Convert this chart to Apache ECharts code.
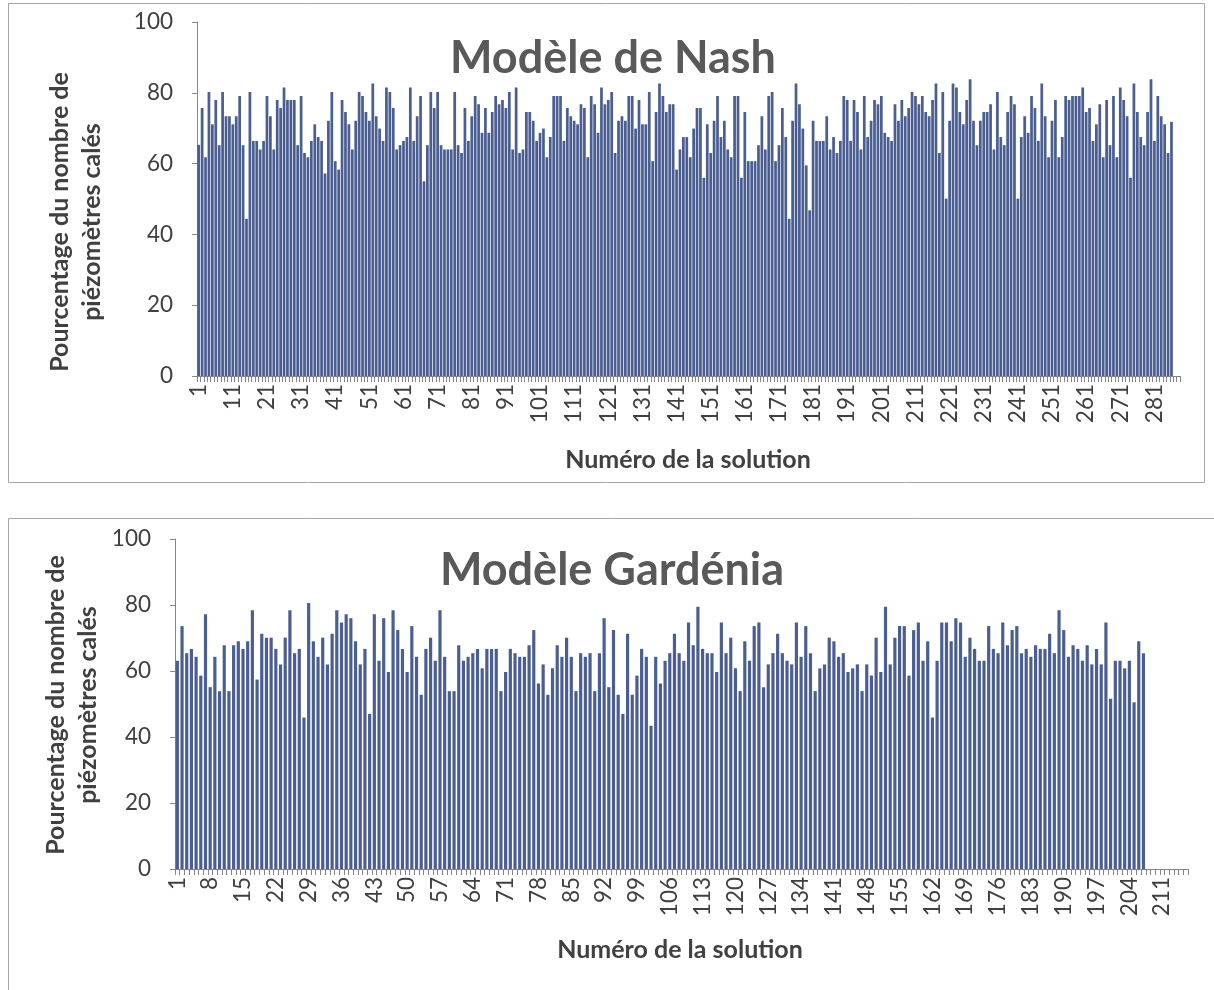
<!DOCTYPE html>
<html><head><meta charset="utf-8">
<script src="https://cdn.jsdelivr.net/npm/echarts@6/dist/echarts.min.js"></script>
<style>html,body{margin:0;padding:0;background:#fff}#c{width:1214px;height:990px}</style>
</head><body><div id="c"></div>
<script>
// ---- Data ----
const nashTitle = 'Modèle de Nash';
const gardeniaTitle = 'Modèle Gardénia';
const xAxisName = 'Numéro de la solution';
const yAxisName = 'Pourcentage du nombre de\npiézomètres calés';
const yTicks = [0, 20, 40, 60, 80, 100];
const nashCategoryCount = 288;      // categories on the axis (labels 1, 11, ... 281)
const gardeniaCategoryCount = 216;  // categories on the axis (labels 1, 8, ... 211)

const nashValues = [
65.3,75.7,61.8,80.2,71.1,78,65.2,80.2,73.4,73.4,71.1,73.4,79.1,65.2,44.4,80.2,66.4,66.4,64.0,66.4,79.1,73.4,64.0,78,75.7,81.5,78,78,78,65.2,79.1,63,61.8,66.4,71.1,67.5,66.4,57.2,72.1,80.2,60.7,58.3,78,74.6,71.1,64.0,72.1,80.2,
79.1,74.6,72.1,82.6,73.4,69.9,66.4,81.5,80.2,75.7,64.0,65.2,66.4,67.5,81.5,66.4,73.4,79.1,55.0,65.2,80.2,75.7,80.2,65.2,64.0,64.0,64.0,80.2,65.2,63.0,75.7,66.4,73.4,79.1,76.8,68.7,75.7,68.7,74.6,79.1,76.8,78,75.7,80.2,64.0,81.5,63.0,64.0,
74.6,74.6,72.1,66.4,68.7,69.9,61.8,67.5,79.1,79.1,79.1,66.4,75.7,73.4,72.1,71.1,76.8,75.7,61.8,79.1,76.8,68.7,81.5,76.8,78,80.2,63.0,72.1,73.4,72.1,79.1,79.1,69.9,78,71.1,71.1,80.2,60.7,74.6,82.6,79.1,74.6,76.8,76.8,58.3,64.0,67.5,
67.5,61.8,69.9,75.7,75.7,56.0,71.1,63.0,72.1,79.1,67.5,72.1,64.0,61.8,79.1,79.1,56.0,74.6,60.7,60.7,60.7,65.2,73.4,64.0,79.1,80.2,60.7,65.2,75.7,67.5,44.4,72.1,82.6,76.8,69.9,59.5,46.8,72.1,66.4,66.4,66.4,73.4,64.0,67.5,63.0,66.4,79.1,78,66.4,
78,74.6,64.0,79.1,67.5,72.1,78,76.8,79.1,68.7,67.5,66.4,76.8,72.1,78,73.4,75.7,80.2,79.1,76.8,79.1,74.6,73.4,78,82.6,63.0,80.2,50.1,72.1,82.6,81.5,74.6,71.1,78,83.8,72.1,65.2,72.1,74.6,74.6,76.8,64.0,80.2,67.5,65.2,74.6,79.1,76.8,
50.1,67.5,73.4,68.7,79.1,75.7,66.4,82.6,73.4,61.8,72.1,78,61.8,67.5,79.1,78,79.1,79.1,79.1,81.5,74.6,75.7,66.4,71.1,76.8,61.8,78,65.2,79.1,61.8,81.5,78,73.4,56.0,82.6,74.6,67.5,65.2,74.6,83.8,66.4,79.1,73.4,71.1,63.0,71.8
];

const gardeniaValues = [
63.1,73.6,65.4,66.7,64.3,58.6,77.2,55.1,64.3,53.9,67.8,53.9,67.8,69.0,66.7,69.0,78.4,57.4,71.3,70.1,70.1,66.7,62.0,70.1,78.4,65.4,66.7,45.9,80.6,69.0,64.3,70.1,62.0,71.3,78.4,
74.7,77.2,76.0,69.0,62.0,66.7,47.0,77.2,63.1,76.0,59.7,78.4,72.4,66.7,59.7,73.6,64.3,52.8,66.7,70.1,63.1,78.4,64.3,53.9,53.9,67.8,63.1,64.3,65.4,66.7,60.8,66.7,66.7,66.7,
53.9,59.7,66.7,65.4,64.3,64.3,67.8,72.4,56.2,62.0,52.8,60.8,67.8,64.3,70.1,64.3,53.9,65.4,64.3,65.4,53.9,65.4,76.0,55.1,72.4,52.8,47.0,71.3,52.8,58.6,66.7,64.3,43.4,64.3,56.2,
63.1,65.4,71.3,65.4,63.1,74.7,67.8,79.5,66.7,65.4,65.4,59.7,74.7,65.4,70.1,60.8,53.9,69.0,63.1,73.6,74.7,55.1,62.0,65.4,71.3,65.4,63.1,62.0,74.7,64.3,73.6,65.4,53.9,60.8,
62.0,70.1,69.0,64.3,65.4,59.7,60.8,62.0,53.9,62.0,58.6,70.1,59.7,79.5,62.0,70.1,73.6,73.6,58.6,72.4,74.7,63.1,69.0,45.9,63.1,74.7,74.7,69.0,76.0,74.7,64.3,70.1,66.7,63.1,63.1,
73.6,66.7,65.4,74.7,67.8,72.4,73.6,65.4,66.7,64.3,67.8,66.7,66.7,71.3,65.4,78.4,72.4,64.3,67.8,66.7,63.1,67.8,62.0,66.7,62.0,74.7,51.6,63.1,63.1,60.8,63.1,50.5,69.0,65.4
];

const nashCategories = Array.from({length: nashCategoryCount}, (_, i) => String(i + 1));
const gardeniaCategories = Array.from({length: gardeniaCategoryCount}, (_, i) => String(i + 1));

// ---- Styles ----
const FONT = 'Lato, "Open Sans", sans-serif';
const TXT = '#404040';
const AXIS = '#868686';
const BAR = '#4b5e91';

function xAxisCfg(grid, cats, labelInterval) {
  return {
    type: 'category', gridIndex: grid, data: cats,
    axisLine: {show: true, lineStyle: {color: AXIS, width: 1}},
    axisTick: {show: true, interval: 0, length: 6, lineStyle: {color: AXIS}},
    axisLabel: {interval: labelInterval, rotate: 90, fontSize: 22.5, color: TXT, fontFamily: FONT, margin: 8},
    splitLine: {show: false}
  };
}
function yAxisCfg(grid) {
  return {
    type: 'value', gridIndex: grid, min: 0, max: 100, interval: 20,
    axisLine: {show: true, lineStyle: {color: AXIS, width: 1}},
    axisTick: {show: true, length: 5, lineStyle: {color: AXIS}},
    axisLabel: {fontSize: 22.5, color: TXT, fontFamily: FONT, margin: 24,
      formatter: v => yTicks.includes(v) ? String(v) : ''},
    splitLine: {show: false}
  };
}
function txt(x, y, text, size, rot, color, lh) {
  return {
    type: 'text', x: x, y: y, rotation: rot || 0, silent: true,
    style: {text: text, fontSize: size, fontWeight: 'bold', fontFamily: FONT, fill: color || TXT,
      align: 'center', verticalAlign: 'middle', lineHeight: lh || size * 1.3}
  };
}

const chart = echarts.init(document.getElementById('c'), null, {renderer: 'canvas'});
chart.setOption({
  animation: false,
  backgroundColor: '#fff',
  grid: [
    {left: 197, top: 22, width: 983, height: 354, containLabel: false},
    {left: 175, top: 539, width: 1013, height: 330, containLabel: false}
  ],
  xAxis: [xAxisCfg(0, nashCategories, 9), xAxisCfg(1, gardeniaCategories, 6)],
  yAxis: [yAxisCfg(0), yAxisCfg(1)],
  series: [
    {type: 'bar', xAxisIndex: 0, yAxisIndex: 0, data: nashValues, barCategoryGap: '20%',
      itemStyle: {color: BAR}},
    {type: 'bar', xAxisIndex: 1, yAxisIndex: 1, data: gardeniaValues, barCategoryGap: '32%',
      itemStyle: {color: BAR}}
  ],
  graphic: [
    {type: 'rect', silent: true, shape: {x: 8.5, y: 3.5, width: 1196, height: 479},
      style: {fill: 'none', stroke: '#a6a6a6', lineWidth: 1}},
    {type: 'polyline', silent: true, shape: {points: [[8.5, 990], [8.5, 518.5], [1214, 518.5]]},
      style: {fill: 'none', stroke: '#a6a6a6', lineWidth: 1}},
    txt(613, 58, nashTitle, 45, 0, '#595959'),
    txt(612, 570, gardeniaTitle, 45, 0, '#595959'),
    txt(76, 222, yAxisName, 25, Math.PI / 2, TXT, 32),
    txt(72, 705, yAxisName, 25, Math.PI / 2, TXT, 32),
    txt(688, 460, xAxisName, 25, 0),
    txt(680, 950, xAxisName, 25, 0)
  ]
});
</script>
</body></html>
